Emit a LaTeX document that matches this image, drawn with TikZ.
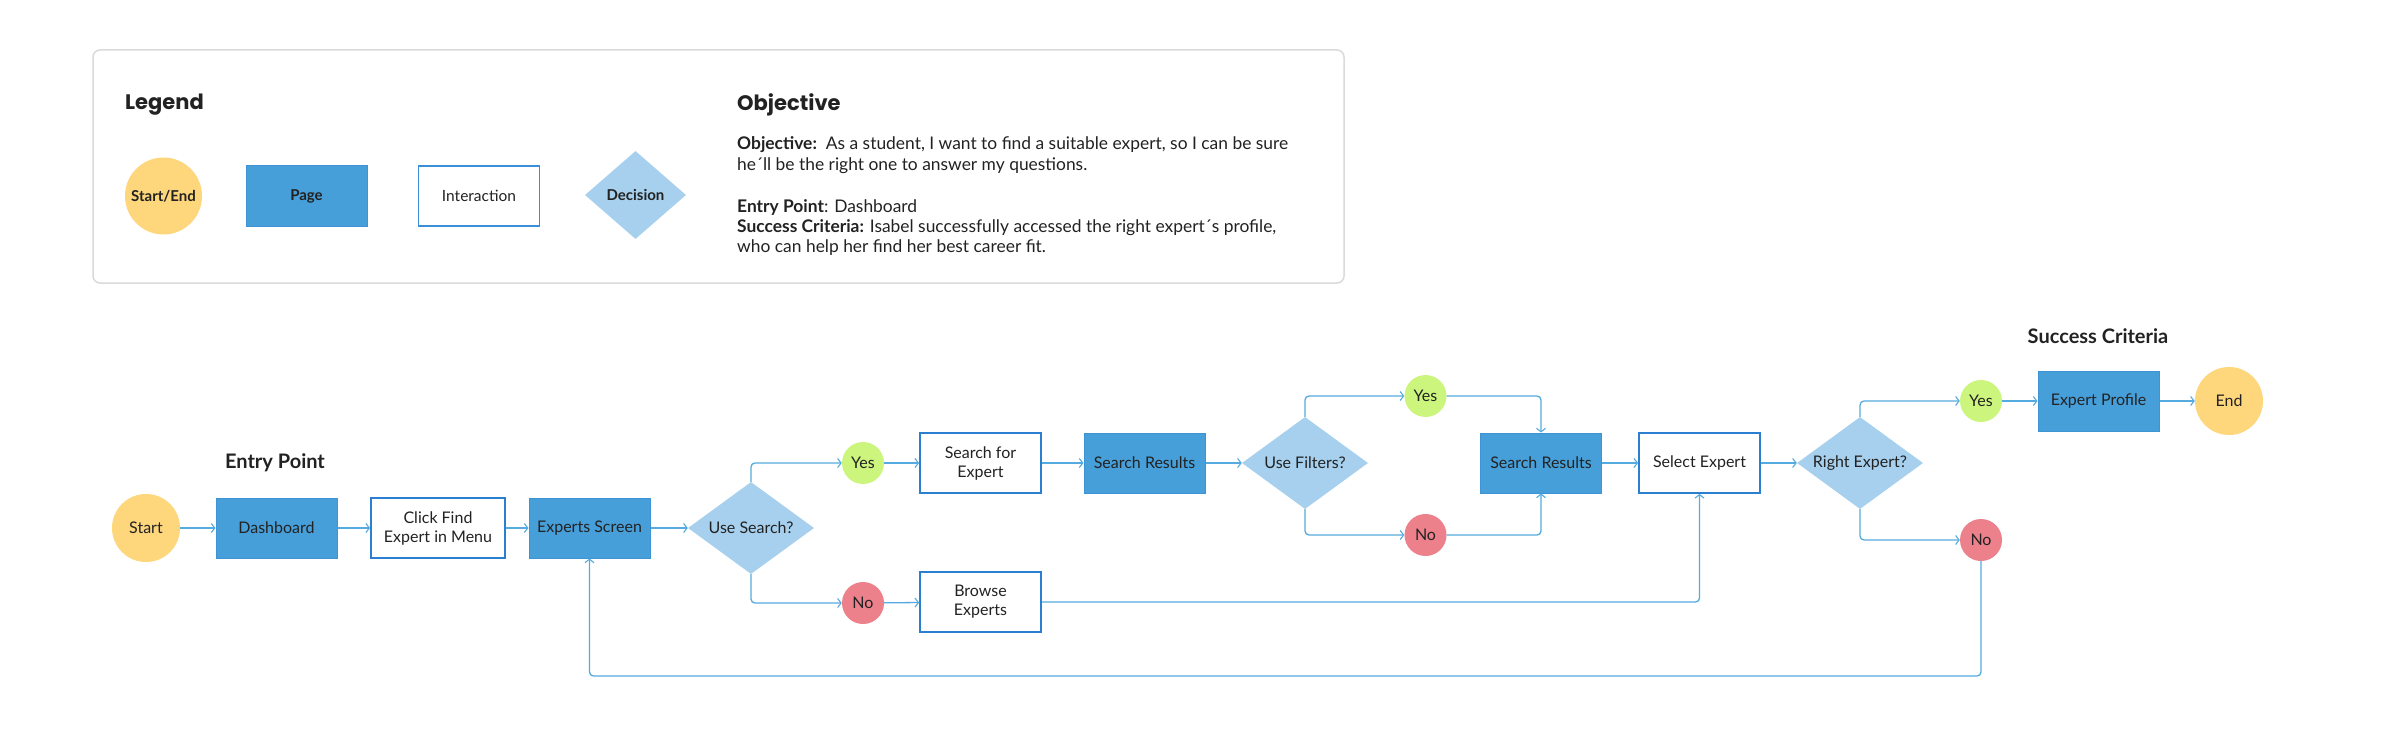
\documentclass[tikz,border=0pt]{standalone}
\usepackage{fontspec}
\setmainfont{Lato}
\newfontfamily\titlefont{Poppins}
\usetikzlibrary{shapes.geometric,arrows.meta}
\definecolor{cyellow}{HTML}{FED67C}
\definecolor{cpage}{HTML}{479FD9}
\definecolor{cpageedge}{HTML}{3D93D3}
\definecolor{cdec}{HTML}{A6D0EE}
\definecolor{cyes}{HTML}{CCF57E}
\definecolor{cno}{HTML}{EC808B}
\definecolor{cline}{HTML}{55ABE0}
\definecolor{cinter}{HTML}{2B7FD1}
\definecolor{cinterlight}{HTML}{3C8ED8}
\definecolor{ctext}{HTML}{222222}
\definecolor{cframe}{HTML}{DADADA}
\begin{document}
\begin{tikzpicture}[x=1pt,y=-1pt,
  every node/.style={text=ctext},
  lbl/.style={font=\fontsize{16}{19}\selectfont, align=center},
  lgd/.style={font=\fontsize{15}{18}\selectfont\bfseries, align=center},
  term/.style={circle, fill=cyellow, minimum size=68pt, inner sep=0pt},
  pagebox/.style={rectangle, fill=cpage, draw=cpageedge, line width=1pt, minimum width=121pt, minimum height=60pt, inner sep=0pt},
  interbox/.style={rectangle, fill=white, draw=cinter, line width=1.8pt, minimum width=121pt, minimum height=60pt, inner sep=0pt},
  decbox/.style={diamond, fill=cdec, shape aspect=1.37, minimum width=126pt, minimum height=92pt, inner sep=0pt},
  yesdot/.style={circle, fill=cyes, minimum size=42pt, inner sep=0pt},
  nodot/.style={circle, fill=cno, minimum size=42pt, inner sep=0pt},
  conn/.style={draw=cline, line width=1.3pt, rounded corners=4pt, -{Straight Barb[length=3.5pt,width=9pt,line width=1.1pt]}},
  head/.style={font=\fontsize{20}{24}\selectfont\bfseries},
  otext/.style={font=\fontsize{17.4}{21}\selectfont, anchor=base west, inner sep=0pt}
]
\useasboundingbox (0,0) rectangle (2400,730);
\fill[white] (0,0) rectangle (2400,730);

% Legend frame
\draw[cframe, line width=1.5pt, rounded corners=7pt] (93,50) rectangle (1344,283);
\node[anchor=base west, inner sep=0pt, font=\titlefont\fontsize{21}{24}\selectfont\bfseries] (legendtitle) at (125,110) {Legend};
\node[anchor=base west, inner sep=0pt, font=\titlefont\fontsize{21}{24}\selectfont\bfseries] (objtitle) at (737,111) {Objective};

\node[term, minimum size=77pt, lgd] (lstart) at (163.5,196) {Start/End};
\node[pagebox, lgd] (lpage) at (306.5,196) {Page};
\node[interbox, draw=cinterlight, line width=1.4pt, lgd, font=\fontsize{15.5}{18}\selectfont] (linter) at (479,196) {Interaction};
\node[decbox, minimum width=101pt, minimum height=88pt, shape aspect=1.15, lgd] (ldec) at (635.5,195) {Decision};

\node[otext] (o1) at (737,150) {\textbf{Objective:}\ \ As a student, I want to find a suitable expert, so I can be sure};
\node[otext] (o2) at (737,171) {he´ll be the right one to answer my questions.};
\node[otext] (o3) at (737,212) {\textbf{Entry Point}: Dashboard};
\node[otext] (o4) at (737,232) {\textbf{Success Criteria:} Isabel successfully accessed the right expert´s profile,};
\node[otext] (o5) at (737,252) {who can help her find her best career fit.};

% Headings
\node[head] (entry) at (275,463) {Entry Point};
\node[head] (succ) at (2098,336) {Success Criteria};

% Flow nodes
\node[term, lbl] (start) at (146,528) {Start};
\node[pagebox, lbl] (dash) at (276.5,528) {Dashboard};
\node[interbox, lbl, minimum width=134pt] (click) at (438,528) {Click Find\\Expert in Menu};
\node[pagebox, lbl] (exps) at (589.5,528) {Experts Screen};
\node[decbox, lbl] (usearch) at (751,528) {Use Search?};
\node[yesdot, lbl] (yes1) at (863,463) {Yes};
\node[nodot, lbl] (no1) at (863,603) {No};
\node[interbox, lbl] (sfe) at (980.5,463) {Search for\\Expert};
\node[interbox, lbl] (browse) at (980.5,602) {Browse\\Experts};
\node[pagebox, lbl] (sr1) at (1144.5,463) {Search Results};
\node[decbox, lbl] (ufilt) at (1305,463) {Use Filters?};
\node[yesdot, lbl] (yes2) at (1425.5,396) {Yes};
\node[nodot, lbl] (no2) at (1425.5,535) {No};
\node[pagebox, lbl] (sr2) at (1541,463) {Search Results};
\node[interbox, lbl] (sel) at (1699.5,463) {Select Expert};
\node[decbox, lbl] (rexp) at (1860,463) {Right Expert?};
\node[yesdot, lbl] (yes3) at (1981,401) {Yes};
\node[nodot, lbl] (no3) at (1981,540) {No};
\node[pagebox, lbl] (prof) at (2098.5,401) {Expert Profile};
\node[term, lbl] (endn) at (2229,401) {End};
\coordinate (loopy) at (0,676);

% Connectors
\draw[conn] (start) -- (dash);
\draw[conn] (dash) -- (click);
\draw[conn] (click) -- (exps);
\draw[conn] (exps) -- (usearch);
\draw[conn] (usearch.north) |- (yes1.west);
\draw[conn] (usearch.south) |- (no1.west);
\draw[conn] (yes1) -- (sfe);
\draw[conn] (no1) -- (browse);
\draw[conn] (sfe) -- (sr1);
\draw[conn] (sr1) -- (ufilt);
\draw[conn] (ufilt.north) |- (yes2.west);
\draw[conn] (ufilt.south) |- (no2.west);
\draw[conn] (yes2.east) -| (sr2.north);
\draw[conn] (no2.east) -| (sr2.south);
\draw[conn] (sr2) -- (sel);
\draw[conn] (browse.east) -| (sel.south);
\draw[conn] (sel) -- (rexp);
\draw[conn] (rexp.north) |- (yes3.west);
\draw[conn] (rexp.south) |- (no3.west);
\draw[conn] (yes3) -- (prof);
\draw[conn] (prof) -- (endn);
\draw[conn] (no3.south) |- (loopy -| exps.south) -- (exps.south);
\end{tikzpicture}
\end{document}
